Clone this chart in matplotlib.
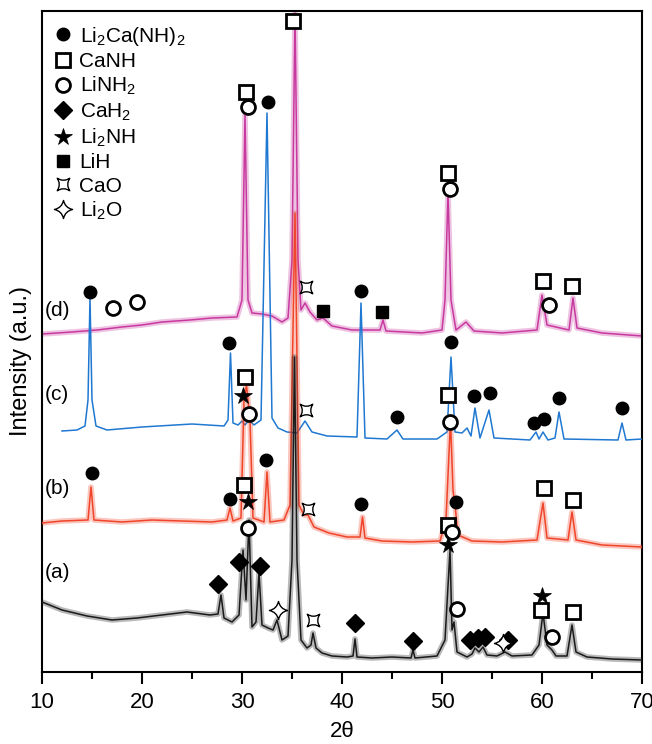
import matplotlib
matplotlib.use("Agg")
import matplotlib.pyplot as plt
from matplotlib.path import Path
from matplotlib.lines import Line2D

plt.rcParams['font.family'] = ['Liberation Sans', 'DejaVu Sans']
plt.rcParams['mathtext.fontset'] = 'custom'
plt.rcParams['mathtext.rm'] = 'Liberation Sans'
plt.rcParams['mathtext.it'] = 'Liberation Sans:italic'

# ---------------- data (2theta, intensity in a.u., stacked offsets included) -------------
tt_a = [10.0, 12.0, 14.5, 17.0, 19.5, 22.0, 24.5, 26.8, 27.6, 27.9, 28.2, 29.0, 29.7, 30.1, 30.4,
        30.7, 31.0, 31.4, 31.7, 32.0, 32.6, 33.1, 33.5, 34.0, 34.6, 35.0, 35.25, 35.5, 35.9, 36.5,
        36.9, 37.1, 37.4, 38.0, 39.0, 40.5, 41.1, 41.3, 41.5, 43.0, 45.0, 46.9, 47.1, 47.3, 49.5,
        50.3, 50.8, 51.0, 51.2, 51.5, 52.5, 53.0, 53.3, 53.7, 54.1, 54.5, 55.5, 56.3, 57.0, 59.0,
        59.7, 60.1, 60.5, 61.0, 61.4, 62.5, 63.0, 63.4, 64.5, 67.0, 70.0]
int_a = [70, 62, 56, 52, 54, 57, 60, 57, 58, 77, 54, 50, 57, 122, 72,
         152, 45, 50, 99, 47, 44, 42, 52, 32, 36, 112, 315, 112, 32, 24,
         27, 39, 24, 19, 16, 15, 16, 33, 15, 14, 15, 14, 22, 14, 16,
         32, 122, 42, 50, 20, 15, 18, 24, 20, 25, 17, 16, 20, 16, 17,
         27, 59, 27, 22, 16, 16, 47, 20, 15, 13, 12]

tt_b = [10.0, 12.0, 14.6, 14.9, 15.2, 18.0, 21.0, 24.0, 27.0, 28.5, 28.8, 29.1, 29.9, 30.2, 30.45,
        30.8, 31.1, 32.2, 32.5, 32.8, 34.2, 34.8, 35.3, 35.7, 36.2, 36.6, 37.2, 38.7, 40.5, 41.8,
        42.05, 42.3, 44.0, 47.0, 49.8, 50.4, 50.85, 51.1, 51.3, 51.6, 53.0, 56.0, 59.5, 60.1, 60.5,
        62.6, 63.0, 63.4, 66.0, 70.0]
int_b = [149, 151, 152, 185, 152, 150, 152, 151, 150, 152, 164, 151, 154, 272, 287,
         252, 154, 150, 200, 150, 152, 167, 459, 167, 157, 157, 145, 139, 135, 135,
         155, 134, 131, 130, 131, 152, 252, 182, 167, 137, 131, 130, 132, 169, 134,
         132, 160, 132, 127, 125]

tt_c = [12.0, 13.5, 14.3, 14.6, 14.8, 15.0, 15.4, 16.5, 20.0, 25.0, 28.2, 28.6, 28.85, 29.1, 29.6,
        30.0, 30.3, 30.7, 31.2, 31.9, 32.5, 33.0, 33.6, 34.5, 35.5, 36.3, 37.0, 38.5, 41.5, 41.9,
        42.3, 44.5, 45.5, 46.1, 49.5, 50.5, 50.9, 51.3, 52.0, 52.5, 52.9, 53.3, 53.8, 54.7, 55.2,
        58.8, 59.4, 59.7, 60.1, 60.6, 61.3, 61.7, 62.2, 67.6, 68.0, 68.4, 70.0]
int_c = [241, 242, 246, 272, 374, 272, 246, 242, 245, 248, 246, 252, 319, 249, 247,
         251, 247, 252, 247, 252, 559, 254, 244, 240, 239, 251, 240, 236, 235, 369,
         234, 233, 242, 233, 233, 240, 315, 240, 239, 244, 236, 264, 234, 262, 234,
         232, 240, 233, 240, 232, 234, 260, 233, 232, 249, 232, 233]

tt_d = [10.0, 13.0, 15.5, 18.0, 20.0, 22.0, 24.8, 27.0, 29.5, 30.0, 30.3, 30.6, 31.0, 32.0, 33.0,
        34.0, 34.6, 35.0, 35.3, 35.6, 35.9, 36.3, 36.8, 37.5, 38.1, 39.0, 41.0, 43.8, 44.1, 44.4,
        48.0, 50.0, 50.3, 50.6, 50.9, 51.4, 52.4, 53.2, 56.0, 59.5, 60.0, 60.5, 62.7, 63.1, 63.5,
        66.0, 70.0]
int_d = [338, 340, 342, 345, 347, 350, 352, 354, 355, 372, 557, 372, 359, 358, 356,
         350, 354, 412, 659, 412, 362, 369, 360, 352, 354, 346, 342, 342, 352, 341,
         339, 342, 372, 480, 372, 342, 350, 341, 339, 342, 377, 347, 342, 374, 344,
         339, 336]

trace_labels = ['(a)', '(b)', '(c)', '(d)']
trace_label_y = [99, 184, 277, 362]

# phase reflection markers (2theta, height)
li2canh2_x = [14.8, 32.6, 41.9, 28.7, 45.5, 50.9, 53.2, 54.8, 59.2, 60.2, 61.7, 68.0, 15.0, 28.8, 32.4, 41.9, 51.4]
li2canh2_y = [380, 570, 381, 329, 255, 330, 276, 279, 249, 253, 274, 264, 199, 173, 212, 168, 170]
canh_x = [30.4, 35.1, 50.6, 60.1, 63.0, 30.3, 50.6, 30.2, 60.2, 63.1, 50.6, 59.9, 63.1]
canh_y = [580, 651, 499, 391, 386, 295, 277, 187, 184, 172, 147, 62, 60]
linh2_x = [17.1, 19.5, 30.6, 50.8, 60.7, 30.7, 50.8, 30.6, 51.0, 51.5, 61.0]
linh2_y = [364, 370, 565, 483, 367, 258, 250, 144, 140, 63, 35]
cah2_x = [27.6, 29.7, 31.8, 41.3, 47.1, 52.8, 53.6, 54.3, 56.6]
cah2_y = [88, 110, 106, 49, 31, 32, 34, 35, 32]
li2nh_x = [30.1, 30.6, 50.6, 60.0]
li2nh_y = [276, 170, 127, 76]
lih_x = [38.1, 44.0]
lih_y = [361, 360]
cao_x = [36.4, 36.4, 36.6, 37.1]
cao_y = [385, 262, 163, 52]
li2o_x = [33.6, 56.1]
li2o_y = [62, 29]

phase_names = ['Li$_\\mathregular{2}$Ca(NH)$_\\mathregular{2}$', 'CaNH', 'LiNH$_\\mathregular{2}$',
               'CaH$_\\mathregular{2}$', 'Li$_\\mathregular{2}$NH', 'LiH', 'CaO', 'Li$_\\mathregular{2}$O']

# ---------------- custom marker shapes -----------------
C3 = Path.CURVE3
cao_marker = Path([(-1, 1), (0, 0.35), (1, 1), (0.35, 0), (1, -1), (0, -0.35), (-1, -1), (-0.35, 0), (-1, 1), (-1, 1)],
                  [Path.MOVETO, C3, C3, C3, C3, C3, C3, C3, C3, Path.CLOSEPOLY])
li2o_marker = Path([(0, 1), (0.18, 0.18), (1, 0), (0.18, -0.18), (0, -1), (-0.18, -0.18), (-1, 0), (-0.18, 0.18), (0, 1), (0, 1)],
                   [Path.MOVETO, C3, C3, C3, C3, C3, C3, C3, C3, Path.CLOSEPOLY])

styles = [
    dict(marker='o', ms=9, mfc='black', mec='black', mew=1.0),
    dict(marker='s', ms=10, mfc='white', mec='black', mew=2.0),
    dict(marker='o', ms=10, mfc='white', mec='black', mew=2.0),
    dict(marker='D', ms=9, mfc='black', mec='black', mew=1.0),
    dict(marker='*', ms=13, mfc='black', mec='black', mew=0.5),
    dict(marker='s', ms=8, mfc='black', mec='black', mew=1.0),
    dict(marker=cao_marker, ms=9, mfc='white', mec='black', mew=1.0),
    dict(marker=li2o_marker, ms=13, mfc='white', mec='black', mew=1.0),
]
marker_sets = [(li2canh2_x, li2canh2_y), (canh_x, canh_y), (linh2_x, linh2_y), (cah2_x, cah2_y),
               (li2nh_x, li2nh_y), (lih_x, lih_y), (cao_x, cao_y), (li2o_x, li2o_y)]

# ---------------- figure -----------------
fig = plt.figure(figsize=(6.52, 7.44), dpi=100)
ax = fig.add_axes([42 / 652, 1 - 672 / 744, 600 / 652, 661 / 744])

traces = [(tt_d, int_d, '#c8399f', True), (tt_c, int_c, '#1f78d1', False),
          (tt_b, int_b, '#f0452a', True), (tt_a, int_a, '#1a1a1a', True)]
for i, (x, y, col, noisy) in enumerate(traces):
    if noisy:
        ax.plot(x, y, color=col, lw=4.0, alpha=0.3, solid_joinstyle='round', zorder=2 + i)
    ax.plot(x, y, color=col, lw=1.1, zorder=2 + i)

for (xs, ys), st in zip(marker_sets, styles):
    ax.plot(xs, ys, ls='none', zorder=10, clip_on=False, **st)

for lab, yy in zip(trace_labels, trace_label_y):
    ax.text(10.25, yy, lab, fontsize=15, ha='left', va='center')

handles = [Line2D([], [], ls='none', **st) for st in styles]
leg = ax.legend(handles, phase_names, loc='upper left', bbox_to_anchor=(0.0, 0.995), frameon=False,
                fontsize=15, handlelength=1.0, handletextpad=0.3, labelspacing=0.2, borderaxespad=0.3,
                borderpad=0.2)

ax.set_xlim(10, 70)
ax.set_ylim(0, 661)
ax.set_yticks([])
ax.set_xticks(range(10, 71, 10))
ax.set_xticks(range(15, 70, 10), minor=True)
ax.tick_params(axis='x', which='major', direction='out', length=8.5, width=1.5, labelsize=16, pad=6)
ax.tick_params(axis='x', which='minor', direction='out', length=5, width=1.5)
for s in ax.spines.values():
    s.set_linewidth(1.5)

ax.set_xlabel('2\u03b8', fontsize=16)
ax.xaxis.set_label_coords(0.5, -0.074)
ax.set_ylabel('Intensity (a.u.)', fontsize=17)
ax.yaxis.set_label_coords(-0.017, 0.47)

fig.savefig('out.png', dpi=100)
